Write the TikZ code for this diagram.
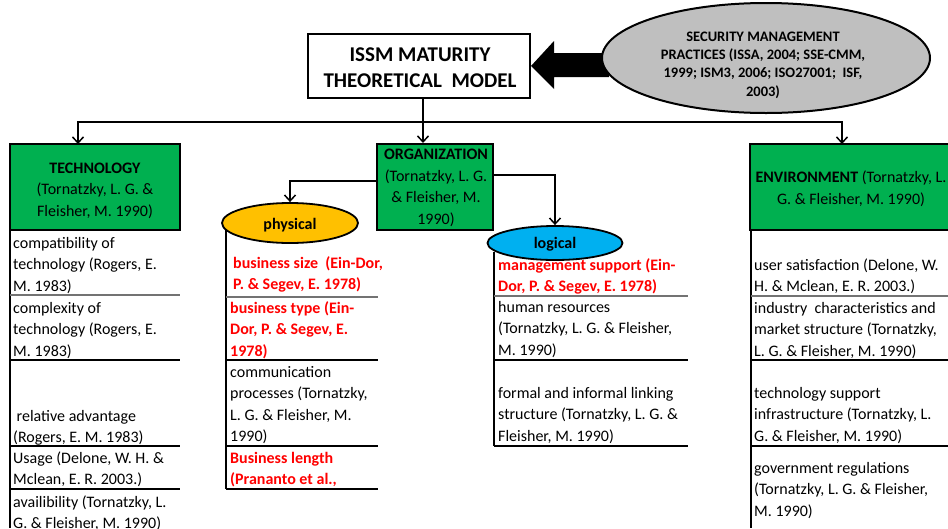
\documentclass[tikz,border=0pt]{standalone}
\usepackage{fontspec}
\setmainfont{Carlito}
\usetikzlibrary{arrows.meta,shapes.geometric,calc}
\definecolor{techgreen}{HTML}{00B050}
\definecolor{physorange}{HTML}{FFC000}
\definecolor{logblue}{HTML}{00B0F0}
\definecolor{practgray}{HTML}{BFBFBF}
\definecolor{refred}{HTML}{FF0000}
\begin{document}
% Multi-line text nodes are placed by the baseline of their last line.
\begin{tikzpicture}[x=1pt,y=-1pt,
  link/.style={line width=1.8pt,-{Straight Barb[length=6pt,width=11pt,line width=1.5pt]}},
  factorbox/.style={draw,line width=2pt,fill=techgreen,inner sep=0pt},
  headtext/.style={anchor=base,align=center,inner sep=0pt,font=\fontsize{16}{21.5}\selectfont},
  celltext/.style={anchor=base west,align=left,inner sep=0pt,font=\fontsize{16}{21.5}\selectfont},
  redtext/.style={celltext,text=refred,font=\fontsize{16}{21.5}\selectfont\bfseries},
  colline/.style={line width=1.6pt},
  sepline/.style={line width=1.3pt},
  softsep/.style={line width=1.1pt,draw=black!55},
  kindellipse/.style={ellipse,draw,line width=1.8pt,inner sep=0pt},
]
\useasboundingbox (0,0) rectangle (948,528);
\clip (0,0) rectangle (948,528);

% ---------- title and practices ----------
\node[draw,line width=2pt,minimum width=222pt,minimum height=64pt,inner sep=0pt] (title) at (419,66) {};
\node[anchor=base,align=center,inner sep=0pt,font=\fontsize{21}{26}\selectfont\bfseries] (titletext) at (420,87)
  {ISSM MATURITY\\THEORETICAL\ \ MODEL};

% block arrow from the practices ellipse into the title box
\fill[black] (title.east) -- ($(title.east)+(23,-25)$) -- ($(title.east)+(23,-13)$)
  -- ($(title.east)+(78,-13)$) -- ($(title.east)+(78,11)$) -- ($(title.east)+(23,11)$)
  -- ($(title.east)+(23,23)$) -- cycle;

\node[kindellipse,fill=practgray,line width=2pt,minimum width=328pt,minimum height=110pt] (practices) at (766,58) {};
\node[anchor=base,align=center,inner sep=0pt,font=\fontsize{14.5}{18.3}\selectfont\bfseries] (practext) at (763,96)
  {SECURITY MANAGEMENT\\PRACTICES (ISSA, 2004; SSE-CMM,\\1999; ISM3, 2006; ISO27001;\ \ ISF,\\2003)};

% ---------- three factor boxes ----------
\node[factorbox,minimum width=170pt,minimum height=86pt] (tech) at (95,187) {};
\node[factorbox,minimum width=116pt,minimum height=86pt] (org) at (435,187) {};
\node[factorbox,minimum width=204pt,minimum height=86pt] (env) at (852,187) {};

\node[headtext] (techtext) at (95,216) {\textbf{TECHNOLOGY}\\(Tornatzky, L. G. \&\\Fleisher, M. 1990)};
\node[headtext] (orgtext) at (436,224) {\textbf{ORGANIZATION}\\(Tornatzky, L. G.\\\& Fleisher, M.\\1990)};
\node[headtext] (envtext) at (851,204) {\textbf{ENVIRONMENT} (Tornatzky, L.\\G. \& Fleisher, M. 1990)};

% ---------- connectors ----------
\coordinate (hub) at (423,122);
\coordinate (techin) at (78,144);
\coordinate (envin) at (842,144);
\draw[link] (title.south -| hub) -- (org.north -| hub);
\draw[link] (hub) -| (techin);
\draw[link] (hub) -| (envin);

% ---------- column rules ----------
% technology
\draw[colline] (10,230) -- (10,528);
\draw[softsep] (10,295) -- (180,295);
\draw[sepline] (10,360) -- (180,360);
\draw[sepline] (10,446) -- (180,446);
\draw[sepline] (10,489) -- (180,489);
% physical
\draw[colline] (226,228) -- (226,489);
\draw[softsep] (226,297) -- (378,297);
\draw[sepline] (226,360) -- (378,360);
\draw[sepline] (226,446) -- (378,446);
\draw[sepline] (226,489) -- (378,489);
% logical
\draw[colline] (494,252) -- (494,446);
\draw[softsep] (494,296) -- (688,296);
\draw[sepline] (494,360) -- (688,360);
\draw[sepline] (494,446) -- (688,446);
% environment
\draw[colline] (751,230) -- (751,528);
\draw[softsep] (751,296) -- (948,296);
\draw[sepline] (751,360) -- (948,360);
\draw[sepline] (751,446) -- (948,446);

% ---------- organization sub-kinds ----------
\node[kindellipse,fill=physorange,minimum width=136pt,minimum height=40pt] (phys) at (290,223) {};
\node[kindellipse,fill=logblue,minimum width=135pt,minimum height=34pt] (logi) at (555,243) {};
\node[anchor=base,inner sep=0pt,font=\fontsize{16}{20}\selectfont\bfseries] (phystext) at (290,229) {physical};
\node[anchor=base,inner sep=0pt,font=\fontsize{16}{20}\selectfont\bfseries] (logitext) at (555,248) {logical};

\draw[link] (org.west |- 0,181) -| (phys.north);
\draw[link] (org.east |- 0,175) -| (logi.north);

% ---------- technology items ----------
\node[celltext] (t1) at (13,291) {compatibility of\\technology (Rogers, E.\\M. 1983)};
\node[celltext] (t2) at (13,356) {complexity of\\technology (Rogers, E.\\M. 1983)};
\node[celltext] (t3) at (13,442.5) {\hspace{3.5pt}relative advantage\\(Rogers, E. M. 1983)};
\node[celltext] (t4) at (13,484.5) {Usage (Delone, W. H. \&\\Mclean, E. R. 2003.)};
\node[celltext] (t5) at (13,528.5) {availibility (Tornatzky, L.\\G. \& Fleisher, M. 1990)};

% ---------- physical items ----------
\node[redtext] (p1) at (233,289.5) {business size\ \ (Ein-Dor,\\P. \& Segev, E. 1978)};
\node[redtext] (p2) at (230,356) {business type (Ein-\\Dor, P. \& Segev, E.\\1978)};
\node[celltext] (p3) at (230,441.5) {communication\\processes (Tornatzky,\\L. G. \& Fleisher, M.\\1990)};
\node[redtext] (p4) at (230,484.5) {Business length\\(Prananto et al.,};

% ---------- logical items ----------
\node[redtext] (l1) at (498,291.5) {management support (Ein-\\Dor, P. \& Segev, E. 1978)};
\node[celltext] (l2) at (498,355) {human resources\\(Tornatzky, L. G. \& Fleisher,\\M. 1990)};
\node[celltext] (l3) at (498,441) {formal and informal linking\\structure (Tornatzky, L. G. \&\\Fleisher, M. 1990)};

% ---------- environment items ----------
\node[celltext] (e1) at (754,291.5) {user satisfaction (Delone, W.\\H. \& Mclean, E. R. 2003.)};
\node[celltext] (e2) at (754,356) {industry\ \ characteristics and\\market structure (Tornatzky,\\L. G. \& Fleisher, M. 1990)};
\node[celltext] (e3) at (754,441) {technology support\\infrastructure (Tornatzky, L.\\G. \& Fleisher, M. 1990)};
\node[celltext] (e4) at (754,516) {government regulations\\(Tornatzky, L. G. \& Fleisher,\\M. 1990)};
\end{tikzpicture}
\end{document}
